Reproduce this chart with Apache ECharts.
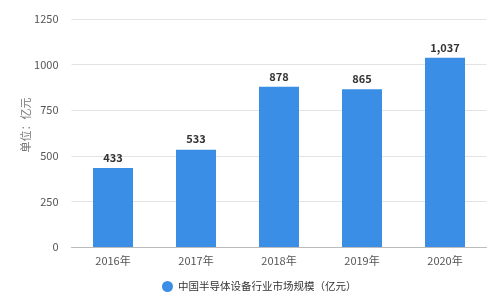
<!DOCTYPE html>
<html><head><meta charset="utf-8">
<script src="https://cdn.jsdelivr.net/npm/echarts@6/dist/echarts.min.js"></script>
<style>html,body{margin:0;padding:0;background:#fff}#c{width:494px;height:305px}</style>
</head><body><div id="c"></div>
<script>
const categories = ['2016年','2017年','2018年','2019年','2020年'];
const values = [433, 533, 878, 865, 1037];
const seriesName = '中国半导体设备行业市场规模（亿元）';
const yTicks = [0, 250, 500, 750, 1000, 1250];
const font = '"Microsoft YaHei","Noto Sans CJK SC",sans-serif';
const chart = echarts.init(document.getElementById('c'));
chart.setOption({
  animation: false,
  grid: {left: 71.5, right: 7.5, top: 19, bottom: 58},
  legend: {
    bottom: 8, left: 157, icon: 'circle', itemWidth: 11, itemHeight: 11, itemGap: 6,
    textStyle: {color: '#333', fontSize: 10.5, fontFamily: font}
  },
  xAxis: {
    type: 'category', data: categories,
    axisLine: {lineStyle: {color: '#bbb'}},
    axisTick: {alignWithLabel: true, lineStyle: {color: '#bbb'}},
    axisLabel: {color: '#555', fontSize: 11, fontFamily: font, margin: 8}
  },
  yAxis: {
    type: 'value', min: yTicks[0], max: yTicks[yTicks.length-1], interval: 250,
    name: '单位：亿元', nameLocation: 'middle', nameGap: 40, nameMoveOverlap: false,
    nameTextStyle: {color: '#777', fontSize: 11, fontFamily: font, padding: [0, 0, 0, 16]},
    axisLine: {show: false}, axisTick: {show: false},
    axisLabel: {color: '#555', fontSize: 11, fontFamily: font, margin: 13, formatter: v => String(v)},
    splitLine: {lineStyle: {color: '#e3e3e3'}}
  },
  series: [{
    name: seriesName, type: 'bar', data: values, barWidth: 40,
    itemStyle: {color: '#3a8ee6'},
    label: {show: true, position: 'top', color: '#333', fontWeight: 'bold', fontSize: 11, fontFamily: font,
      formatter: p => p.value.toLocaleString('en-US')}
  }]
});
</script></body></html>
